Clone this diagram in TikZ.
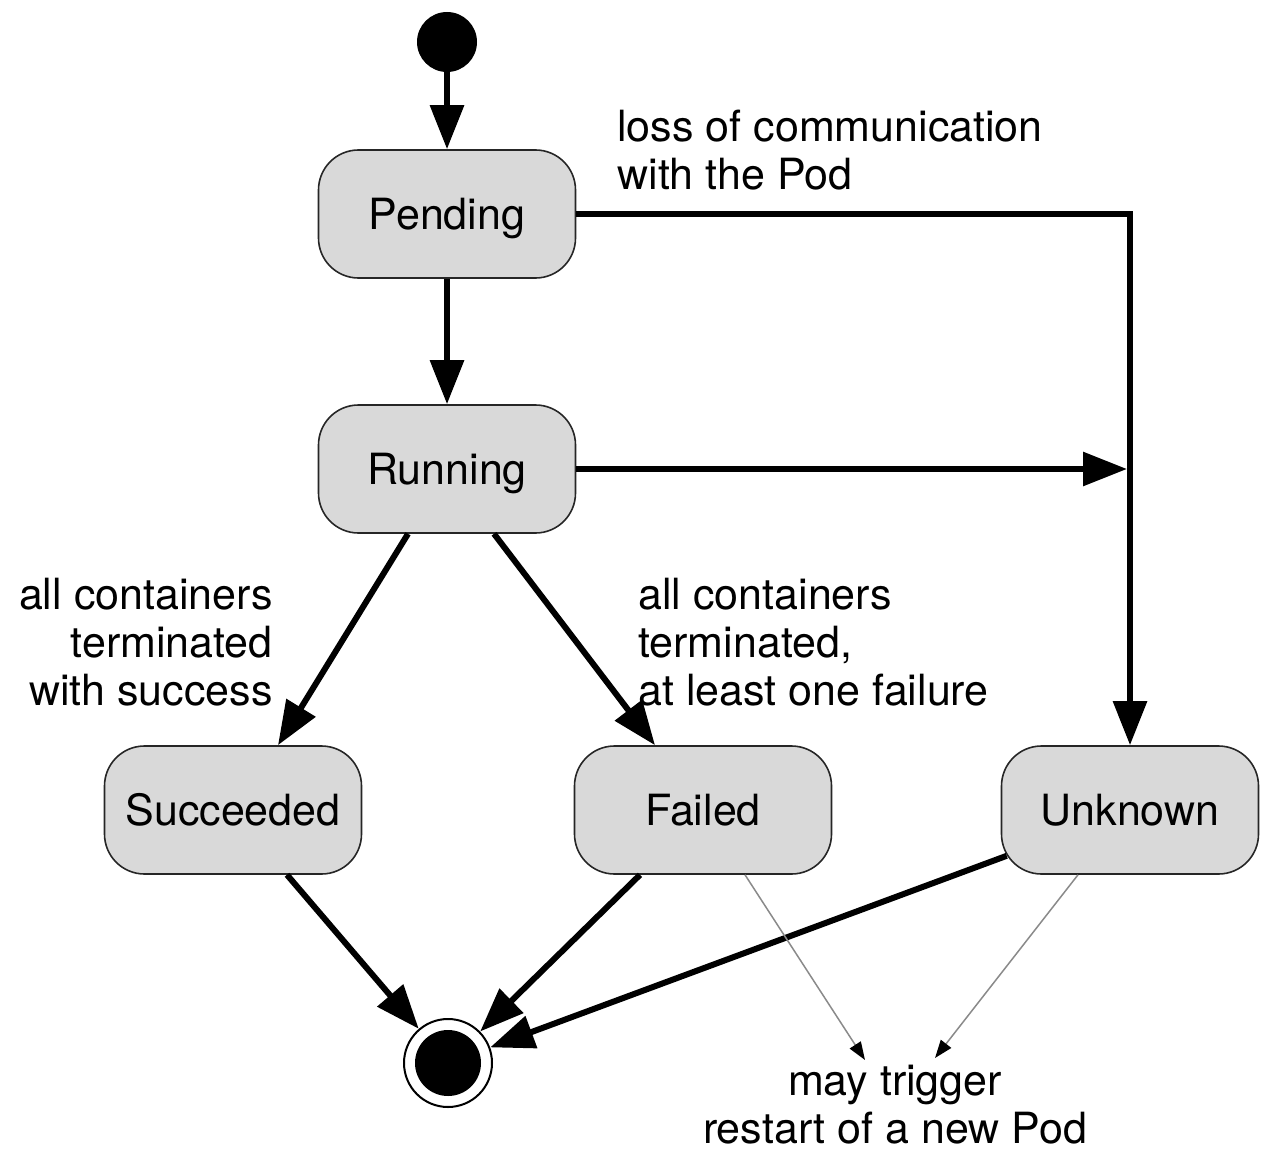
\documentclass[tikz,border=0pt]{standalone}
\usepackage{fontspec}
\setmainfont{TeX Gyre Heros}
\usetikzlibrary{arrows.meta,calc}
\definecolor{stategray}{HTML}{D9D9D9}
\definecolor{hintgray}{HTML}{8A8A8A}
\newcommand\diagfont{\fontsize{21.5pt}{24pt}\selectfont}
\begin{document}
\begin{tikzpicture}[x=0.5pt,y=-0.5pt,
  state/.style={draw=black!85, line width=0.8pt, fill=stategray,
    rounded corners=20pt, minimum width=128.5pt, minimum height=64pt,
    inner sep=0pt, text height=15.4pt, text depth=0pt, font=\diagfont},
  note/.style={inner sep=0pt, font=\diagfont},
  flow/.style={line width=3pt, -{Triangle[length=22pt,width=16.5pt]}},
  hint/.style={line width=0.75pt, draw=hintgray,
    -{Triangle[length=9pt,width=6.5pt,color=black]}}]
\useasboundingbox (0,0) rectangle (1268,1150);

% states
\node[circle, fill=black, minimum size=30pt, inner sep=0pt] (init) at (447,42) {};
\node[state] (Pending)   at (447,214) {Pending};
\node[state] (Running)   at (447,469) {Running};
\node[state] (Succeeded) at (233,810) {Succeeded};
\node[state] (Failed)    at (703,810) {Failed};
\node[state] (Unknown)   at (1130,810) {Unknown};
\node[circle, draw, line width=1pt, fill=white, minimum size=44pt, inner sep=0pt] (final) at (448,1063) {};
\fill (final.center) circle (16.5pt);

% transition labels (anchored at the baseline of their last line)
\node[note, anchor=base west, align=left] (lossnote) at (617,190) {loss of communication\\with the Pod};
\node[note, anchor=base east, align=right] (succnote) at (273,705) {all containers\\terminated\\with success};
\node[note, anchor=base west, align=left] (failnote) at (638,705) {all containers\\terminated,\\at least one failure};
\node[note, anchor=base, align=center] (restart) at (895,1143) {may trigger\\restart of a new Pod};

% transitions
\draw[flow] (init) -- (Pending);
\draw[flow] (Pending) -- (Running);
\draw[flow] (Pending.east) -| (Unknown.north);
\coordinate (join) at ($(Running.east -| Unknown.north)+(-3,0)$);
\draw[flow] (Running.east) -- (join);
\draw[flow] ($(Running.south)+(-39,0)$) -- ($(Succeeded.north)+(45,0)$);
\draw[flow] ($(Running.south)+(47,0)$) -- ($(Failed.north)+(-48,0)$);
\draw[flow] ($(Succeeded.south)+(54,0)$) -- (final);
\draw[flow] ($(Failed.south)+(-63,0)$) -- (final);
\draw[flow] ($(Unknown.south west)+(6,-19)$) -- (final);

% restart hints
\coordinate (hintA) at (865,1060);
\coordinate (hintB) at (935,1058);
\draw[hint] ($(Failed.south)+(42,0)$) -- (hintA);
\draw[hint] ($(Unknown.south)+(-52,0)$) -- (hintB);
\end{tikzpicture}
\end{document}
